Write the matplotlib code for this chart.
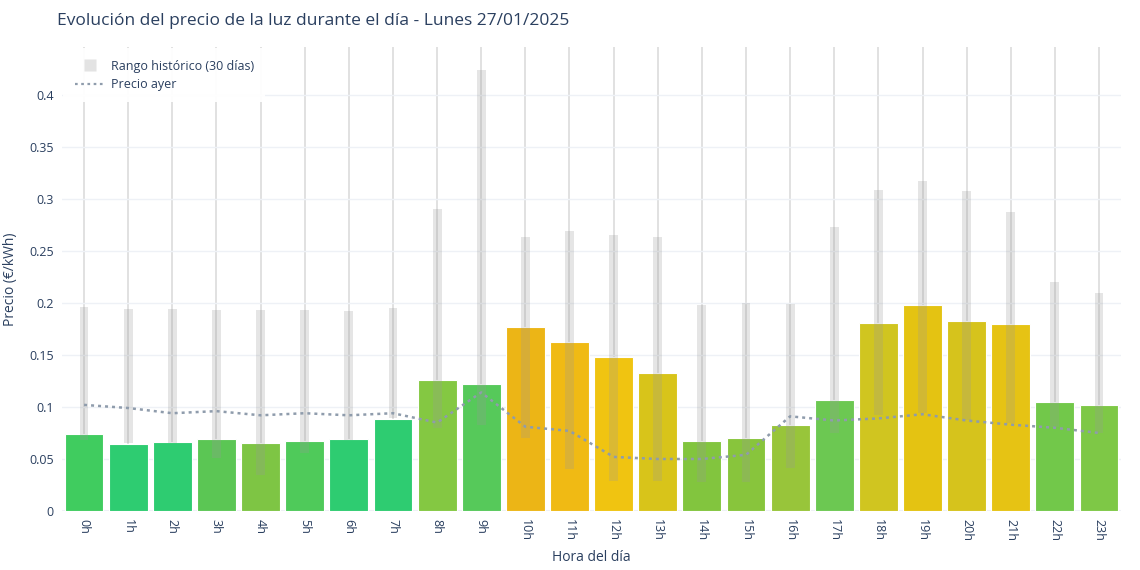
import matplotlib
matplotlib.use("Agg")
import matplotlib.pyplot as plt
from matplotlib.lines import Line2D
import numpy as np

plt.rcParams['font.family'] = ['Open Sans', 'DejaVu Sans']

hours = [f"{h}h" for h in range(24)]
precio = [0.074, 0.0644, 0.0663, 0.069, 0.065, 0.067, 0.069, 0.0885,
          0.126, 0.122, 0.177, 0.1625, 0.148, 0.1327, 0.067, 0.070,
          0.0827, 0.1067, 0.181, 0.198, 0.183, 0.180, 0.105, 0.102]
rango_min = [0.068, 0.065, 0.065, 0.051, 0.0346, 0.056, 0.068, 0.089,
             0.080, 0.083, 0.070, 0.040, 0.029, 0.029, 0.028, 0.028,
             0.041, 0.075, 0.092, 0.094, 0.0875, 0.085, 0.081, 0.075]
rango_max = [0.196, 0.194, 0.194, 0.193, 0.193, 0.193, 0.192, 0.195,
             0.290, 0.424, 0.263, 0.269, 0.265, 0.263, 0.198, 0.200,
             0.199, 0.273, 0.309, 0.317, 0.308, 0.2875, 0.220, 0.210]
precio_ayer = [0.102, 0.099, 0.094, 0.096, 0.092, 0.094, 0.092, 0.094,
               0.085, 0.114, 0.081, 0.077, 0.052, 0.050, 0.050, 0.054,
               0.091, 0.087, 0.089, 0.093, 0.087, 0.083, 0.080, 0.075]
colores = ['#40cc5f', '#2ecc71', '#2ecc71', '#5bc654', '#7ec544', '#4fca5a',
           '#2ecc71', '#2ecc71', '#84c842', '#56c95a', '#ecb516', '#f0ba14',
           '#f0c411', '#d8c41a', '#82c53e', '#88c53c', '#98c53a', '#6cc852',
           '#d0c520', '#e4c312', '#d6c31c', '#e6c314', '#72c84a', '#7ec846']

txt = '#2a3f5f'
fig = plt.figure(figsize=(11.4, 5.7), dpi=100)
ax = fig.add_axes([0.0544, 0.1035, 0.929, 0.814])

x = np.arange(len(hours))
ax.bar(x, precio, width=0.88, color=colores, edgecolor='white', linewidth=0.8, zorder=2)
ax.bar(x, np.array(rango_max) - np.array(rango_min), bottom=rango_min, width=0.2,
       color='#999999', alpha=0.25, linewidth=0, zorder=3)
ax.plot(x, precio_ayer, color='#8f9cac', linewidth=1.8, linestyle=(0, (1.2, 1.6)), zorder=4)

ax.set_xlim(-0.5, 23.5)
ax.set_ylim(0, 0.446)
ax.set_xticks(x)
ax.set_xticklabels(hours, rotation=-90, color=txt, fontsize=9)
yt = [0, 0.05, 0.1, 0.15, 0.2, 0.25, 0.3, 0.35, 0.4]
ax.set_yticks(yt)
ax.set_yticklabels(["0", "0.05", "0.1", "0.15", "0.2", "0.25", "0.3", "0.35", "0.4"],
                   color=txt, fontsize=9)
ax.tick_params(axis='both', length=0, pad=6)
ax.grid(axis='x', color='#dcdcdc', linewidth=1.2, zorder=0)
ax.grid(axis='y', color='#eef1f6', linewidth=1.0, zorder=0)
ax.set_axisbelow(True)
for s in ax.spines.values():
    s.set_visible(False)
ax.axhline(0, color='#eef1f6', linewidth=1.5, zorder=1)

ax.set_xlabel("Hora del día", color=txt, fontsize=10, labelpad=6)
ax.set_ylabel("Precio (€/kWh)", color=txt, fontsize=10, labelpad=8)
fig.text(0.05, 0.964, "Evolución del precio de la luz durante el día - Lunes 27/01/2025",
         color=txt, fontsize=12.5, va='center', ha='left')

handles = [Line2D([0], [0], marker='s', linestyle='none', markersize=9,
                  markerfacecolor='#e3e3e3', markeredgecolor='none'),
           Line2D([0], [0], color='#8f9cac', linewidth=1.6, linestyle=(0, (1.2, 1.6)))]
leg = ax.legend(handles, ["Rango histórico (30 días)", "Precio ayer"], loc='upper left',
                bbox_to_anchor=(0.0, 1.0), frameon=True, fontsize=9, handlelength=2.4,
                borderpad=0.9, labelspacing=0.45, borderaxespad=0.1, handletextpad=0.5)
leg.get_frame().set_facecolor('white')
leg.get_frame().set_edgecolor('none')
leg.get_frame().set_alpha(0.95)
for t in leg.get_texts():
    t.set_color(txt)

fig.savefig("out.png", dpi=100)
